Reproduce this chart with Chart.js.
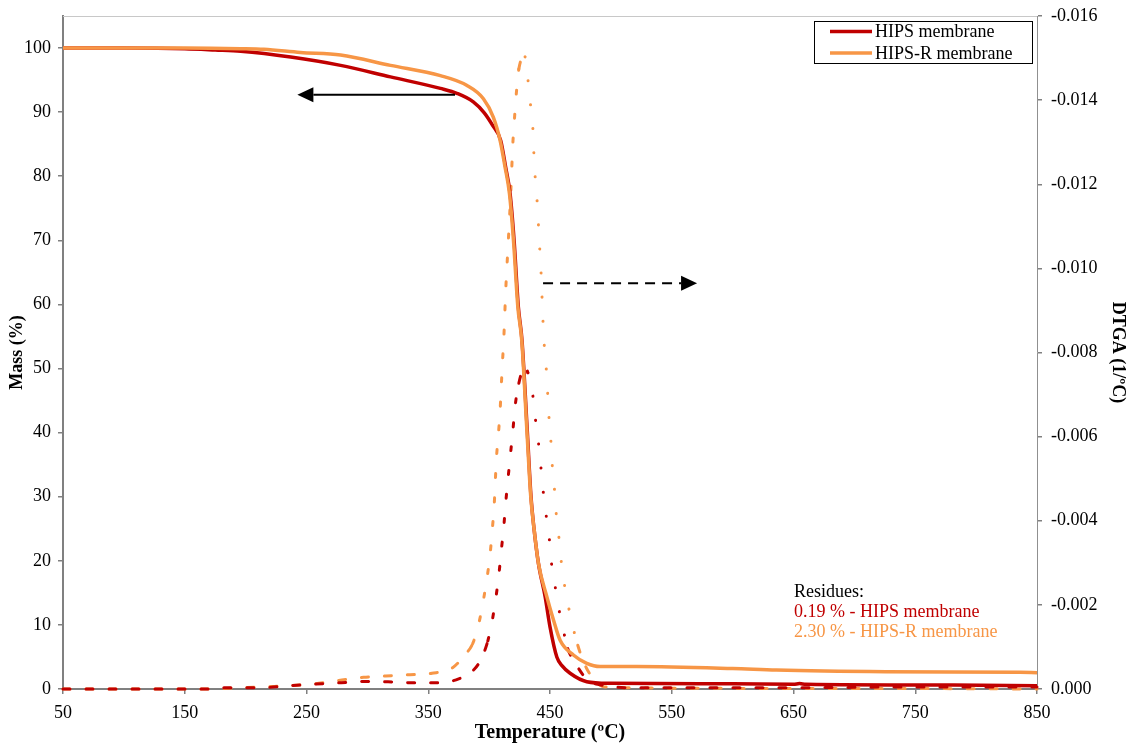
<!DOCTYPE html>
<html>
<head>
<meta charset="utf-8">
<script src="https://cdn.jsdelivr.net/npm/chart.js@4.4.0/dist/chart.umd.min.js"></script>
<style>
  body { margin: 0; background: #fff; }
  #wrap { width: 1134px; height: 747px; position: relative; }
</style>
</head>
<body>
<div id="wrap"><canvas id="tgaChart"></canvas></div>
<script>
// mass loss curves (T in ºC, mass in %)
const hipsMassT = [50, 100, 150, 175, 196, 237, 278, 319, 360, 374, 387, 396, 403, 409.5, 413.6, 417.2, 420.5, 424, 427, 431.3, 434.4, 437, 440.5, 446, 450, 455.6, 460, 466.5, 480.2, 499.4, 600, 650, 655, 660, 781, 850];
const hipsMass  = [100, 100, 99.9, 99.7, 99.5, 98.6, 97.3, 95.5, 93.7, 92.9, 91.6, 89.9, 87.9, 85.6, 81.4, 77.3, 70.0, 59.6, 54.4, 40.4, 30.0, 24.8, 19.6, 14.4, 9.7, 5.0, 3.6, 2.45, 1.14, 0.89, 0.8, 0.73, 0.85, 0.74, 0.62, 0.5];

const hipsRMassT = [50, 150, 196, 215, 245, 278, 319, 360, 381.5, 395.3, 403.5, 409, 413.1, 416.7, 420, 423.6, 426.8, 431, 434.2, 437, 440.5, 447.4, 452.8, 458.3, 469.2, 480.2, 491.1, 521, 600, 636, 726, 836, 850];
const hipsRMass  = [100, 100, 99.9, 99.8, 99.3, 98.9, 97.3, 95.7, 94.2, 92.1, 89.2, 85.6, 81.4, 77.3, 70.0, 59.6, 54.4, 40.4, 30.0, 24.8, 19.6, 14.4, 10.8, 7.6, 5.3, 4.0, 3.5, 3.5, 3.2, 2.96, 2.7, 2.6, 2.55];

// derivative curves (1/ºC)
const hipsDtgaT = [50, 170, 174, 211, 242, 278.5, 298, 317, 336.5, 356, 375, 388, 392.6, 398.9, 402.7, 405.7, 408.2, 410.1, 412.1, 413.7, 415.6, 417.5, 419.5, 421.3, 424.4, 429.5, 431.8, 435.9, 438, 440.5, 442.4, 444.3, 446.6, 449.3, 450.9, 453.9, 456.9, 460.5, 464.6, 469.8, 481, 491, 520, 650, 750, 850];
const hipsDtga  = [0, 0, -0.00003, -0.00003, -0.00009, -0.00015, -0.00018, -0.00017, -0.00015, -0.00015, -0.00024, -0.000475, -0.000666, -0.00114, -0.00165, -0.0022, -0.00277, -0.00332, -0.00388, -0.00445, -0.00502, -0.00557, -0.00614, -0.00671, -0.00727, -0.00766, -0.00752, -0.00698, -0.00642, -0.00586, -0.00531, -0.00473, -0.00418, -0.00361, -0.00307, -0.0025, -0.00196, -0.00146, -0.00096, -0.00066, -0.00021, -0.0001, -0.00003, -0.00003, -0.00005, -0.00005];

const hipsRDtgaT = [50, 100, 168, 196, 218, 241, 260, 279, 297, 315, 335, 353, 370, 380.5, 386.5, 391.8, 398.3, 400.8, 402.5, 404.1, 406, 407.6, 409, 410, 411, 412.1, 413.7, 415.8, 417.8, 419.5, 420.8, 422.4, 424.4, 429.5, 432, 433.9, 435.9, 436.7, 437.8, 439.4, 440.5, 441.6, 442.7, 443.5, 444.3, 445.4, 447.1, 448.2, 449.3, 450.9, 452, 453.9, 455.3, 456.7, 459.1, 462.6, 467.1, 472.8, 481, 495, 550, 650, 750, 850];
const hipsRDtga  = [0, 0, 0, -0.00003, -0.000055, -0.000087, -0.000135, -0.000214, -0.000278, -0.000309, -0.000341, -0.000373, -0.000507, -0.000825, -0.00108, -0.00159, -0.00265, -0.0032, -0.00376, -0.00434, -0.00548, -0.00605, -0.00662, -0.00721, -0.00778, -0.00837, -0.00952, -0.01067, -0.01182, -0.01298, -0.01355, -0.01418, -0.01474, -0.01503, -0.01446, -0.01391, -0.01334, -0.01275, -0.01218, -0.0116, -0.01103, -0.01045, -0.00986, -0.00929, -0.00871, -0.00812, -0.00754, -0.00696, -0.0064, -0.00582, -0.00525, -0.00467, -0.0041, -0.00378, -0.00307, -0.00235, -0.0017, -0.00104, -0.00044, -0.00005, -0.00002, -0.00001, -0.00001, 0];

const xTicks = [50, 150, 250, 350, 450, 550, 650, 750, 850];
const massTicks = [0, 10, 20, 30, 40, 50, 60, 70, 80, 90, 100];
const dtgaTicks = [0, -0.002, -0.004, -0.006, -0.008, -0.010, -0.012, -0.014, -0.016];

const seriesLabels = ['HIPS membrane', 'HIPS-R membrane'];
const residueLines = ['Residues:', '0.19 % - HIPS membrane', '2.30 % - HIPS-R membrane'];

// arrows, in data units of the x axis and the mass axis
const massArrow = { from: 372, to: 242.5, at: 92.7 };
const dtgaArrow = { from: 444.3, to: 570.8, at: 63.3 };

const RED = '#C00000';
const ORANGE = '#F79646';
const FONT = "'Liberation Serif', 'Times New Roman', serif";

function points(xs, ys) {
  return xs.map((x, i) => ({ x: x, y: ys[i] }));
}

// noisy derivative data looks dotted where the curve is steep
function dtgaDash(ctx) {
  const dx = Math.abs(ctx.p1.x - ctx.p0.x);
  const dy = ctx.p1.y - ctx.p0.y;
  if (Math.abs(dy) > 3 * dx) {
    return dy < 0 ? [4, 20] : [0.1, 24];
  }
  return [7, 16];
}

function drawArrow(ctx, x0, x1, y, dashed) {
  const dir = Math.sign(x1 - x0);
  const head = 16;
  ctx.save();
  ctx.strokeStyle = '#000';
  ctx.fillStyle = '#000';
  ctx.lineWidth = 2;
  if (dashed) ctx.setLineDash([10, 7]);
  ctx.beginPath();
  ctx.moveTo(x0, y);
  ctx.lineTo(x1 - dir * head, y);
  ctx.stroke();
  ctx.setLineDash([]);
  ctx.beginPath();
  ctx.moveTo(x1, y);
  ctx.lineTo(x1 - dir * head, y - 7.5);
  ctx.lineTo(x1 - dir * head, y + 7.5);
  ctx.closePath();
  ctx.fill();
  ctx.restore();
}

const overlay = {
  id: 'overlay',
  afterDraw(chart) {
    const { ctx, chartArea, scales } = chart;
    const x = scales.x, y = scales.y;

    ctx.save();
    ctx.strokeStyle = '#c8c8c8';
    ctx.lineWidth = 1;
    ctx.beginPath();
    ctx.moveTo(chartArea.left, chartArea.top + 0.5);
    ctx.lineTo(chartArea.right, chartArea.top + 0.5);
    ctx.stroke();
    ctx.restore();

    drawArrow(ctx, x.getPixelForValue(massArrow.from), x.getPixelForValue(massArrow.to), y.getPixelForValue(massArrow.at), false);
    drawArrow(ctx, x.getPixelForValue(dtgaArrow.from), x.getPixelForValue(dtgaArrow.to), y.getPixelForValue(dtgaArrow.at), true);

    // legend box
    const bx = chartArea.right - 223, by = chartArea.top + 5, bw = 218, bh = 42;
    ctx.save();
    ctx.fillStyle = '#fff';
    ctx.fillRect(bx, by, bw, bh);
    ctx.strokeStyle = '#000';
    ctx.lineWidth = 1;
    ctx.strokeRect(bx + 0.5, by + 0.5, bw, bh);
    ctx.font = '18px ' + FONT;
    ctx.textBaseline = 'middle';
    [RED, ORANGE].forEach((c, i) => {
      const ly = by + 10.5 + i * 21.5;
      ctx.strokeStyle = c;
      ctx.lineWidth = 3.5;
      ctx.beginPath();
      ctx.moveTo(bx + 16, ly);
      ctx.lineTo(bx + 58, ly);
      ctx.stroke();
      ctx.fillStyle = '#000';
      ctx.fillText(seriesLabels[i], bx + 61, ly + 1);
    });

    // residues note
    ctx.textBaseline = 'alphabetic';
    ctx.font = '18px ' + FONT;
    const cols = ['#000', RED, ORANGE];
    residueLines.forEach((t, i) => {
      ctx.fillStyle = cols[i];
      ctx.fillText(t, chartArea.right - 243, chartArea.bottom - 92 + i * 20);
    });
    ctx.restore();
  }
};

const tickFont = { family: FONT, size: 18 };
const titleFont = { family: FONT, size: 18, weight: 'bold' };
const axisGrid = { display: true, drawOnChartArea: false, drawTicks: true, tickLength: 5, color: '#808080', lineWidth: 1.5 };
const axisBorder = { display: true, color: '#808080', width: 2 };

function fitVertical(width) {
  return s => { s.width = width; s.paddingTop = 0; s.paddingBottom = 0; };
}

new Chart(document.getElementById('tgaChart'), {
  type: 'line',
  data: {
    datasets: [
      {
        label: seriesLabels[0],
        data: points(hipsMassT, hipsMass),
        yAxisID: 'y',
        borderColor: RED,
        borderWidth: 3.5,
        order: 1
      },
      {
        label: seriesLabels[1],
        data: points(hipsRMassT, hipsRMass),
        yAxisID: 'y',
        borderColor: ORANGE,
        borderWidth: 3.5,
        order: 0
      },
      {
        label: 'HIPS DTGA',
        data: points(hipsDtgaT, hipsDtga),
        yAxisID: 'y2',
        borderColor: RED,
        borderWidth: 3,
        borderCapStyle: 'round',
        segment: { borderDash: dtgaDash },
        order: 2
      },
      {
        label: 'HIPS-R DTGA',
        data: points(hipsRDtgaT, hipsRDtga),
        yAxisID: 'y2',
        borderColor: ORANGE,
        borderWidth: 3,
        borderCapStyle: 'round',
        segment: { borderDash: dtgaDash },
        order: 3
      }
    ]
  },
  options: {
    responsive: true,
    maintainAspectRatio: false,
    animation: false,
    clip: 4,
    elements: {
      point: { radius: 0 },
      line: { cubicInterpolationMode: 'monotone', fill: false }
    },
    layout: { padding: { top: 16, left: 0, right: 0, bottom: 0 } },
    plugins: {
      legend: { display: false },
      tooltip: { enabled: false }
    },
    scales: {
      x: {
        type: 'linear',
        position: 'bottom',
        min: 50,
        max: 850,
        afterBuildTicks: s => { s.ticks = xTicks.map(v => ({ value: v })); },
        afterFit: s => { s.height = 58; s.paddingLeft = 0; s.paddingRight = 0; },
        ticks: { font: tickFont, color: '#000', padding: 8, maxRotation: 0 },
        grid: axisGrid,
        border: axisBorder,
        title: { display: true, text: 'Temperature (ºC)', font: { family: FONT, size: 20, weight: 'bold' }, color: '#000', padding: { top: 0, bottom: 2 } }
      },
      y: {
        type: 'linear',
        position: 'left',
        min: 0,
        max: 105,
        afterBuildTicks: s => { s.ticks = massTicks.map(v => ({ value: v })); },
        afterFit: fitVertical(63),
        ticks: { font: tickFont, color: '#000', padding: 7 },
        grid: axisGrid,
        border: axisBorder,
        title: { display: true, text: 'Mass (%)', font: titleFont, color: '#000', padding: 7 }
      },
      y2: {
        type: 'linear',
        position: 'right',
        min: -0.016,
        max: 0,
        reverse: true,
        afterBuildTicks: s => { s.ticks = dtgaTicks.map(v => ({ value: v })); },
        afterFit: fitVertical(97),
        ticks: { font: tickFont, color: '#000', padding: 9, callback: v => v.toFixed(3) },
        grid: axisGrid,
        border: { display: true, color: '#909090', width: 1 },
        title: { display: true, text: 'DTGA (1/ºC)', font: titleFont, color: '#000', padding: 6 }
      }
    }
  },
  plugins: [overlay]
});
</script>
</body>
</html>
